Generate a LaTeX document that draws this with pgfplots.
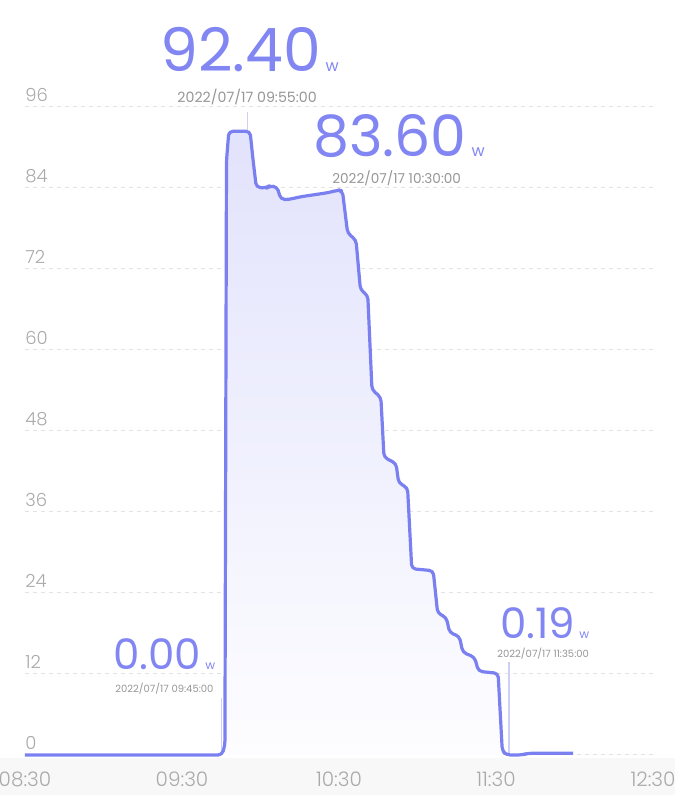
\documentclass[border=0pt]{standalone}
\usepackage{fontspec}
\setmainfont{Poppins}
\newfontfamily\lightfont{Poppins Light}
\usepackage{pgfplots}
\usepackage{pgfplotstable}
\pgfplotsset{compat=1.18}

\definecolor{linecol}{RGB}{123,128,241}
\definecolor{numcol}{RGB}{130,134,243}
\definecolor{markcol}{RGB}{205,207,247}
\definecolor{filltop}{RGB}{226,227,252}
\definecolor{fillbot}{RGB}{253,253,255}
\definecolor{tickgray}{RGB}{170,170,170}
\definecolor{dategray}{RGB}{150,150,150}
\definecolor{gridgray}{RGB}{226,226,226}
\definecolor{bandgray}{RGB}{248,248,248}

% power in W, time in minutes after 08:30
\pgfplotstableread{
t v
0 0
75.3 0
76.4 1.5
77.0 88
77.9 92.4
86.0 92.4
87.2 88
88.4 84.1
92.3 84.0
93.4 84.3
96.3 84.2
97.8 82.3
101.0 82.3
104.0 82.6
107.0 82.8
110.5 83.0
114.0 83.2
117.0 83.4
119.5 83.7
121.3 83.6
123.3 77.3
126.5 76.3
128.2 68.9
131.0 68.1
132.6 54.1
136.0 53.0
137.2 44.1
141.8 43.2
142.8 40.3
146.2 39.6
147.8 27.6
156.0 27.3
157.7 21.0
161.0 20.4
162.3 18.1
166.0 17.6
167.3 15.2
171.8 14.5
173.3 12.4
180.8 12.1
182.4 0.6
184.0 0.0
190.0 0.0
192.0 0.25
209.5 0.25
}\powerdata

\begin{document}
\begin{tikzpicture}
  \fill[bandgray] (0,5.5pt) rectangle (337.5pt,24pt);
  \begin{axis}[
    at={(12.5pt,25.5pt)}, anchor=south west,
    scale only axis,
    width=314pt, height=324pt,
    xmin=0, xmax=240, ymin=0, ymax=96,
    axis line style={draw=none},
    major tick length=0pt,
    tick style={draw=none},
    xtick={0,60,120,180,240},
    xticklabels={08:30,09:30,10:30,11:30,12:30},
    ytick={0,12,24,36,48,60,72,84,96},
    yticklabels={0,12,24,36,48,60,72,84,96},
    /pgf/number format/assume math mode=true,
    xticklabel style={anchor=center, inner sep=0pt, yshift=-12pt,
      font=\lightfont\fontsize{10}{10}\selectfont, text=tickgray},
    yticklabel style={anchor=south west, inner sep=0pt, yshift=2.5pt,
      font=\lightfont\fontsize{9}{9}\selectfont, text=tickgray},
    ymajorgrids,
    major grid style={gridgray, line width=0.5pt, dash pattern=on 2pt off 2pt},
    clip=false,
  ]
    % marker lines
    \addplot[markcol, line width=0.6pt] coordinates {(75,0) (75,8.4)};
    \addplot[markcol, line width=0.6pt] coordinates {(85,0) (85,95.3)};
    \addplot[markcol, line width=0.6pt] coordinates {(120,0) (120,84.0)};
    \addplot[markcol, line width=0.6pt] coordinates {(185,0) (185,13.8)};
    % area and line
    \addplot[draw=none, top color=filltop, bottom color=fillbot, rounded corners=2pt]
      table[x=t, y=v] {\powerdata} \closedcycle;
    \addplot[linecol, line width=1.6pt, rounded corners=2pt, line join=round]
      table[x=t, y=v] {\powerdata};
    % labels
    \node[anchor=base west, inner sep=0pt, text=numcol] at (axis cs:51.6,101.2)
      {\fontsize{30}{30}\selectfont 92.40\hspace{2.5pt}\fontsize{8}{8}\selectfont w};
    \node[anchor=base west, inner sep=0pt, text=dategray] at (axis cs:58.1,96.7)
      {\fontsize{7.1}{7.1}\selectfont 2022/07/17 09:55:00};
    \node[anchor=base west, inner sep=0pt, text=numcol] at (axis cs:110.0,88.6)
      {\fontsize{28.5}{28.5}\selectfont 83.60\hspace{2.5pt}\fontsize{8}{8}\selectfont w};
    \node[anchor=base west, inner sep=0pt, text=dategray] at (axis cs:117.3,84.7)
      {\fontsize{6.8}{6.8}\selectfont 2022/07/17 10:30:00};
    \node[anchor=base west, inner sep=0pt, text=numcol] at (axis cs:33.6,12.6)
      {\fontsize{21}{21}\selectfont 0.00\hspace{2pt}\fontsize{6}{6}\selectfont w};
    \node[anchor=base west, inner sep=0pt, text=dategray] at (axis cs:34.4,9.3)
      {\fontsize{5}{5}\selectfont 2022/07/17 09:45:00};
    \node[anchor=base west, inner sep=0pt, text=numcol] at (axis cs:181.5,17.3)
      {\fontsize{21}{21}\selectfont 0.19\hspace{2pt}\fontsize{6}{6}\selectfont w};
    \node[anchor=base west, inner sep=0pt, text=dategray] at (axis cs:180.4,14.4)
      {\fontsize{5}{5}\selectfont 2022/07/17 11:35:00};
  \end{axis}
  \pgfresetboundingbox
  \path (0,0) rectangle (337.5pt,403pt);
\end{tikzpicture}
\end{document}
